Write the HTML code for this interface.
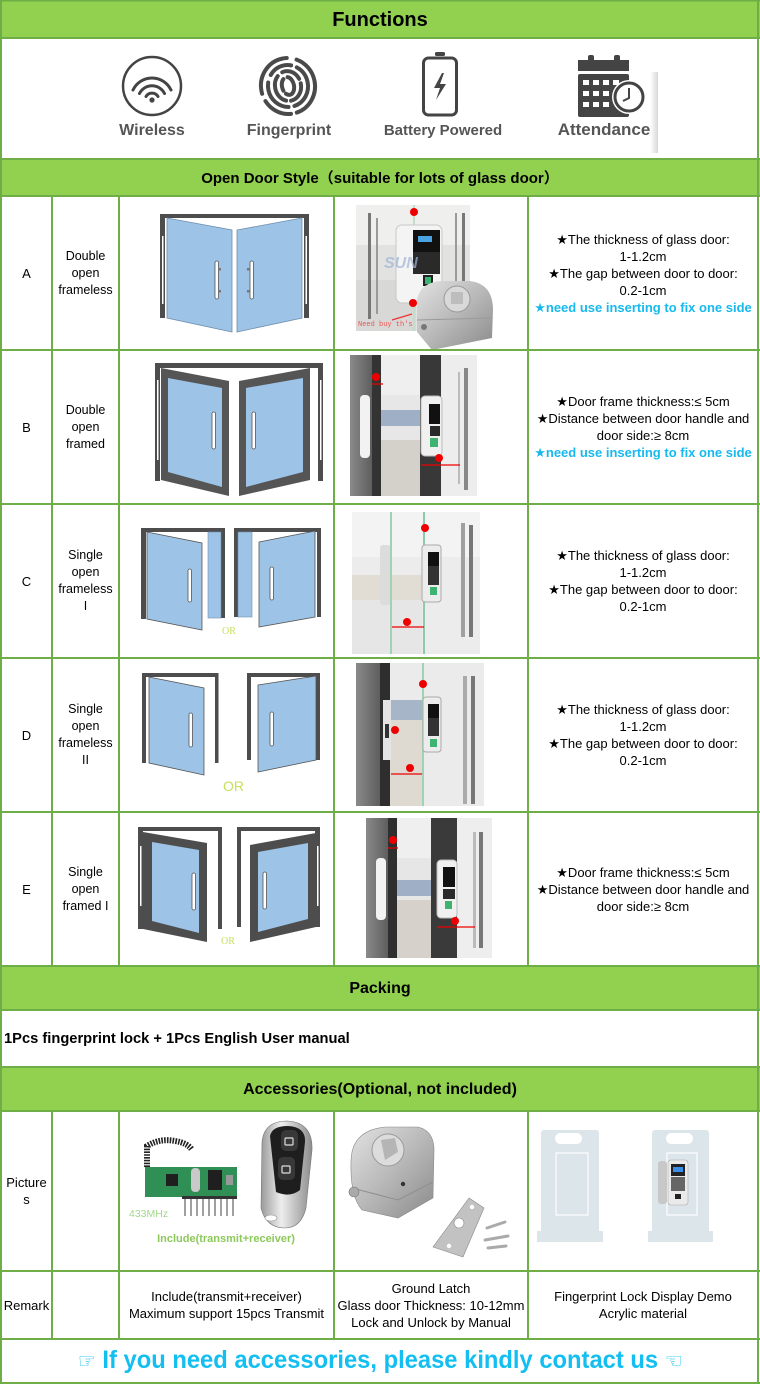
<!DOCTYPE html>
<html><head><meta charset="utf-8">
<style>
*{margin:0;padding:0;box-sizing:border-box}
body{width:760px;height:1384px;background:#fff;position:relative;overflow:hidden;font-family:"Liberation Sans",Arial,sans-serif;color:#000}
.c{position:absolute;display:flex;align-items:center;justify-content:center;text-align:center;font-size:13px;line-height:17px}
.c2{font-size:12.5px}
.h{font-weight:bold;font-size:16px}
.bl{color:#17b9ef;font-weight:bold}
.ic{position:absolute;font-weight:bold;color:#555;font-size:16px;white-space:nowrap;text-align:center}
.tx{font-family:'Liberation Sans','DejaVu Sans',sans-serif;white-space:nowrap}
svg{position:absolute;left:0;top:0}
</style></head><body>
<svg width="760" height="1384" xmlns="http://www.w3.org/2000/svg">
<defs>
<linearGradient id="steel" x1="0" y1="0" x2="1" y2="1"><stop offset="0" stop-color="#e2e2e2"/><stop offset=".5" stop-color="#b8b8b8"/><stop offset="1" stop-color="#8a8a8a"/></linearGradient>
<linearGradient id="chrome" x1="0" y1="0" x2="1" y2="0"><stop offset="0" stop-color="#9a9a9a"/><stop offset=".4" stop-color="#eeeeee"/><stop offset="1" stop-color="#8c8c8c"/></linearGradient>
<linearGradient id="shade" x1="0" y1="0" x2="1" y2="0"><stop offset="0" stop-color="#ffffff"/><stop offset="1" stop-color="#d8d8d8"/></linearGradient>
<linearGradient id="frm" x1="0" y1="0" x2="1" y2="0"><stop offset="0" stop-color="#8a8a8a"/><stop offset="1" stop-color="#5e5e5e"/></linearGradient>
</defs>
<!-- headers -->
<rect x="0" y="0" width="760" height="38" fill="#92d050"/>
<rect x="0" y="159" width="760" height="37" fill="#92d050"/>
<rect x="0" y="966" width="760" height="44" fill="#92d050"/>
<rect x="0" y="1067" width="760" height="44" fill="#92d050"/>

<!-- Icons -->
<circle cx="152" cy="86" r="29" fill="none" stroke="#444" stroke-width="2.5"/>
<g fill="none" stroke="#444" stroke-width="3" stroke-linecap="round">
<path d="M133,90 A21,21 0 0 1 171,90"/>
<path d="M139.5,93.5 A14,14 0 0 1 164.5,93.5"/>
<path d="M146,96.5 A7,7 0 0 1 158,96.5"/>
</g>
<circle cx="152" cy="100" r="2.6" fill="#444"/>

<g fill="none" stroke="#4a4a4a" stroke-width="4" stroke-linecap="round" transform="rotate(-12 288 86)">
<ellipse cx="288" cy="86" rx="27" ry="28" stroke-dasharray="40 6 30 8 50 10 30"/>
<ellipse cx="288" cy="86" rx="20" ry="21" stroke-dasharray="30 6 36 8 24 6"/>
<ellipse cx="288" cy="86" rx="13" ry="15" stroke-dasharray="22 5 30 6 20"/>
<ellipse cx="288" cy="86" rx="6" ry="9" stroke-dasharray="16 4 12 5"/>
</g>

<rect x="423.5" y="58" width="33" height="57" rx="5" fill="none" stroke="#444" stroke-width="3"/>
<rect x="435" y="52" width="10" height="4" rx="1.5" fill="#444"/>
<polygon points="442,73 434,88 440,88 436,100 446,84 440,84 444,73" fill="#444"/>

<rect x="578" y="60" width="51" height="11" fill="#444"/>
<rect x="588" y="55" width="6" height="8" rx="2" fill="#444"/>
<rect x="614" y="55" width="6" height="8" rx="2" fill="#444"/>
<rect x="578" y="74" width="51" height="43" rx="2" fill="#444"/>
<g fill="#fff">
<rect x="583" y="80" width="6" height="5"/><rect x="593" y="80" width="6" height="5"/><rect x="603" y="80" width="6" height="5"/><rect x="613" y="80" width="6" height="5"/>
<rect x="583" y="91" width="6" height="5"/><rect x="593" y="91" width="6" height="5"/><rect x="603" y="91" width="6" height="5"/>
<rect x="583" y="102" width="6" height="5"/><rect x="593" y="102" width="6" height="5"/><rect x="603" y="102" width="6" height="5"/>
</g>
<circle cx="629" cy="97" r="17" fill="#fff"/>
<circle cx="629" cy="97" r="14" fill="#fff" stroke="#444" stroke-width="3"/>
<path d="M629,88 L629,98 L623,101" fill="none" stroke="#444" stroke-width="2"/>
<rect x="650" y="72" width="8" height="81" fill="url(#shade)"/>

<!-- Row A door diagram -->
<g>
<rect x="160" y="214" width="149" height="4" fill="#4d4d4d"/>
<rect x="160" y="214" width="5" height="104" fill="#4d4d4d"/>
<rect x="162" y="236" width="1.5" height="68" fill="#fff"/>
<rect x="304" y="214" width="5" height="104" fill="#4d4d4d"/>
<rect x="305.5" y="236" width="1.5" height="68" fill="#fff"/>
<polygon points="167,218 232,230 232,332 167,318" fill="#9dc3e6" stroke="#6f8fae" stroke-width=".8"/>
<polygon points="237,230 302,218 302,318 237,332" fill="#9dc3e6" stroke="#6f8fae" stroke-width=".8"/>
<rect x="215" y="261" width="3.5" height="38" rx="1.7" fill="#fff" stroke="#555" stroke-width=".8"/>
<rect x="218" y="268" width="3" height="2.5" fill="#777"/><rect x="218" y="290" width="3" height="2.5" fill="#777"/>
<rect x="250" y="261" width="3.5" height="38" rx="1.7" fill="#fff" stroke="#555" stroke-width=".8"/>
<rect x="247" y="268" width="3" height="2.5" fill="#777"/><rect x="247" y="290" width="3" height="2.5" fill="#777"/>
</g>

<!-- Row B door diagram -->
<g>
<rect x="155" y="363" width="168" height="5" fill="#4d4d4d"/>
<rect x="155" y="363" width="5" height="118" fill="#4d4d4d"/>
<rect x="157" y="380" width="1.5" height="80" fill="#fff"/>
<rect x="318" y="363" width="5" height="118" fill="#4d4d4d"/>
<rect x="320" y="380" width="1.5" height="80" fill="#fff"/>
<polygon points="161,368 229,381 229,496 161,480" fill="#555"/>
<polygon points="168,378 222,388 222,487 168,472" fill="#9dc3e6"/>
<polygon points="239,381 310,368 310,480 239,496" fill="#555"/>
<polygon points="246,388 303,378 303,472 246,487" fill="#9dc3e6"/>
<rect x="212" y="412" width="3.5" height="37" rx="1.7" fill="#fff" stroke="#555" stroke-width=".8"/>
<rect x="252" y="412" width="3.5" height="37" rx="1.7" fill="#fff" stroke="#555" stroke-width=".8"/>
</g>

<!-- Row C door diagram -->
<g>
<rect x="141" y="528" width="84" height="4" fill="#4d4d4d"/>
<rect x="141" y="528" width="5" height="91" fill="#4d4d4d"/>
<rect x="221" y="528" width="4" height="90" fill="#4d4d4d"/>
<rect x="208" y="532" width="13" height="86" fill="#9dc3e6" stroke="#6f8fae" stroke-width=".6"/>
<polygon points="147,532 202,543 202,630 147,619" fill="#9dc3e6" stroke="#555" stroke-width=".8"/>
<rect x="188" y="569" width="3.5" height="33" rx="1.7" fill="#fff" stroke="#555" stroke-width=".8"/>
<rect x="234" y="528" width="87" height="4" fill="#4d4d4d"/>
<rect x="234" y="528" width="4" height="89" fill="#4d4d4d"/>
<rect x="317" y="528" width="4" height="89" fill="#4d4d4d"/>
<rect x="238" y="532" width="14" height="85" fill="#9dc3e6" stroke="#6f8fae" stroke-width=".6"/>
<polygon points="259,542 315,531 315,617 259,627" fill="#9dc3e6" stroke="#555" stroke-width=".8"/>
<rect x="270" y="567" width="3.5" height="33" rx="1.7" fill="#fff" stroke="#555" stroke-width=".8"/>
<text x="222" y="634" font-family="Liberation Serif,serif" font-size="10" fill="#c5e05c">OR</text>
</g>

<!-- Row D door diagram -->
<g>
<rect x="142" y="673" width="76" height="4" fill="#4d4d4d"/>
<rect x="142" y="673" width="4" height="90" fill="#4d4d4d"/>
<rect x="215" y="673" width="3.5" height="90" fill="#4d4d4d"/>
<polygon points="149,677 204,688 204,775 149,763" fill="#9dc3e6" stroke="#555" stroke-width=".8"/>
<rect x="189" y="713" width="3.5" height="34" rx="1.7" fill="#fff" stroke="#555" stroke-width=".8"/>
<rect x="247" y="673" width="73" height="4" fill="#4d4d4d"/>
<rect x="247" y="673" width="4" height="87" fill="#4d4d4d"/>
<rect x="316" y="673" width="4" height="87" fill="#4d4d4d"/>
<polygon points="258,685 316,676 316,760 258,772" fill="#9dc3e6" stroke="#555" stroke-width=".8"/>
<rect x="270" y="712" width="3.5" height="34" rx="1.7" fill="#fff" stroke="#555" stroke-width=".8"/>
<text x="223" y="791" font-family="Liberation Sans,sans-serif" font-size="14" fill="#c5e05c">OR</text>
</g>

<!-- Row E door diagram -->
<g>
<rect x="138" y="827" width="84" height="4" fill="#4d4d4d"/>
<rect x="138" y="827" width="5" height="102" fill="#4d4d4d"/>
<rect x="140" y="846" width="1.5" height="60" fill="#fff"/>
<rect x="218" y="827" width="4" height="102" fill="#4d4d4d"/>
<polygon points="143,832 207,843 207,942 143,929" fill="#4d4d4d"/>
<polygon points="152,842 199,850 199,933 152,921" fill="#9dc3e6"/>
<rect x="192" y="873" width="3.5" height="37" rx="1.7" fill="#fff" stroke="#555" stroke-width=".8"/>
<rect x="237" y="827" width="83" height="4" fill="#4d4d4d"/>
<rect x="237" y="827" width="4" height="100" fill="#4d4d4d"/>
<rect x="315" y="827" width="5" height="100" fill="#4d4d4d"/>
<rect x="317" y="846" width="1.5" height="60" fill="#fff"/>
<polygon points="250,845 316,833 316,927 250,942" fill="#4d4d4d"/>
<polygon points="258,852 308,843 308,919 258,932" fill="#9dc3e6"/>
<rect x="263" y="872" width="3.5" height="37" rx="1.7" fill="#fff" stroke="#555" stroke-width=".8"/>
<text x="221" y="944" font-family="Liberation Serif,serif" font-size="10" fill="#c5e05c">OR</text>
</g>

<!-- Row A photo -->
<g>
<rect x="356" y="205" width="114" height="126" fill="#e2e2e0"/>
<rect x="356" y="205" width="114" height="40" fill="#efefed"/>
<rect x="356" y="280" width="60" height="51" fill="#d8d8d6"/>
<rect x="413" y="205" width="2" height="126" fill="#c5dccd"/>
<rect x="368" y="213" width="3" height="106" fill="#777"/>
<rect x="376" y="218" width="2" height="96" fill="#9a9a9a"/>
<rect x="455" y="213" width="2" height="106" fill="#9a9a9a"/>
<rect x="462" y="213" width="3" height="106" fill="#777"/>
<rect x="396" y="225" width="46" height="78" rx="6" fill="#f4f4f4" stroke="#c8c8c8"/>
<rect x="413" y="230" width="27" height="22" fill="#111"/>
<rect x="418" y="236" width="14" height="6" fill="#4aa3e0"/>
<rect x="413" y="252" width="27" height="22" fill="#2a2a2a"/>
<rect x="423" y="275" width="10" height="11" fill="#222"/>
<rect x="425" y="277" width="6" height="7" fill="#3cb371"/>
<text x="384" y="268" font-family="Liberation Sans,sans-serif" font-size="16" font-weight="bold" font-style="italic" fill="#9fb4d6" opacity=".7">SUN</text>
<path d="M417,300 Q420,282 442,281 L470,281 Q493,284 493,310 L492,338 L432,350 L417,332 Z" fill="url(#steel)"/>
<path d="M417,320 L492,318" stroke="#9a9a9a" stroke-width="1" fill="none"/>
<circle cx="457" cy="299" r="13" fill="#d9d9d9" stroke="#999"/>
<rect x="451" y="292" width="12" height="12" fill="#bdbdbd"/>
<circle cx="424" cy="327" r="3" fill="#777"/>
<circle cx="414" cy="212" r="4" fill="#e00"/>
<circle cx="413" cy="303" r="4" fill="#e00"/>
<path d="M392,320 L412,314" stroke="#e33" stroke-width="1.2"/>
<text x="358" y="326" font-family="Liberation Mono,monospace" font-size="7" fill="#ee5555">Need buy th's</text>
</g>

<!-- Row B photo -->
<g>
<rect x="350" y="355" width="127" height="141" fill="#e7e7e7"/>
<rect x="381" y="355" width="39" height="40" fill="#efefef"/>
<rect x="381" y="410" width="39" height="16" fill="#9fb0c6"/>
<rect x="381" y="440" width="39" height="56" fill="#d4d0ca"/>
<rect x="350" y="355" width="22" height="141" fill="url(#frm)"/>
<rect x="372" y="355" width="9" height="141" fill="#333"/>
<rect x="420" y="355" width="21" height="141" fill="#383838"/>
<rect x="441" y="355" width="36" height="141" fill="#ededed"/>
<rect x="458" y="372" width="2" height="112" fill="#bbb"/>
<rect x="464" y="368" width="4" height="122" fill="#888"/>
<rect x="421" y="396" width="21" height="60" rx="4" fill="#f0f0f0" stroke="#bbb"/>
<rect x="429" y="404" width="11" height="20" fill="#111"/>
<rect x="430" y="426" width="10" height="10" fill="#2a2a2a"/>
<rect x="430" y="438" width="8" height="9" fill="#3cb371"/>
<rect x="360" y="395" width="10" height="63" rx="4" fill="#f2f2f2"/>
<circle cx="376" cy="377" r="4" fill="#e00"/>
<path d="M372,384 L383,384" stroke="#e00" stroke-width="1.2"/>
<circle cx="439" cy="458" r="4" fill="#e00"/>
<path d="M421,465 L460,465" stroke="#e00" stroke-width="1.2"/>
</g>

<!-- Row C photo -->
<g>
<rect x="352" y="512" width="128" height="142" fill="#ececec"/>
<rect x="352" y="512" width="128" height="45" fill="#f3f3f3"/>
<rect x="352" y="575" width="70" height="25" fill="#e2ddd4"/>
<rect x="352" y="600" width="70" height="54" fill="#e6e6e6"/>
<rect x="380" y="545" width="11" height="60" rx="3" fill="#dcdcdc"/>
<rect x="390" y="512" width="2" height="142" fill="#9fd3b4"/>
<rect x="423" y="512" width="2" height="142" fill="#8fcaa8"/>
<rect x="422" y="545" width="19" height="57" rx="3" fill="#ececec" stroke="#aaa"/>
<rect x="428" y="552" width="11" height="14" fill="#111"/>
<rect x="428" y="566" width="11" height="19" fill="#333"/>
<rect x="430" y="587" width="7" height="8" fill="#3cb371"/>
<rect x="461" y="523" width="4" height="114" fill="#a0a0a0"/>
<rect x="469" y="525" width="4" height="112" fill="#777"/>
<circle cx="425" cy="528" r="4" fill="#e00"/>
<circle cx="407" cy="622" r="4" fill="#e00"/>
<path d="M392,627 L424,627" stroke="#e00" stroke-width="1.2"/>
</g>

<!-- Row D photo -->
<g>
<rect x="356" y="663" width="128" height="143" fill="#ebebeb"/>
<rect x="390" y="700" width="32" height="20" fill="#a7b5c8"/>
<rect x="390" y="720" width="32" height="86" fill="#dedad2"/>
<rect x="356" y="663" width="24" height="143" fill="url(#frm)"/>
<rect x="380" y="663" width="10" height="143" fill="#2e2e2e"/>
<rect x="383" y="700" width="8" height="60" fill="#e4e4e4"/>
<rect x="385" y="724" width="4" height="14" fill="#333"/>
<rect x="422" y="663" width="2" height="143" fill="#9fd3b4"/>
<rect x="423" y="697" width="18" height="55" rx="3" fill="#ececec" stroke="#aaa"/>
<rect x="428" y="704" width="11" height="14" fill="#111"/>
<rect x="428" y="718" width="11" height="18" fill="#333"/>
<rect x="430" y="739" width="7" height="8" fill="#3cb371"/>
<rect x="463" y="676" width="4" height="128" fill="#aaa"/>
<rect x="471" y="676" width="4" height="128" fill="#777"/>
<circle cx="423" cy="684" r="4" fill="#e00"/>
<circle cx="395" cy="730" r="4" fill="#e00"/>
<circle cx="410" cy="768" r="4" fill="#e00"/>
<path d="M391,774 L422,774" stroke="#e00" stroke-width="1.2"/>
</g>

<!-- Row E photo -->
<g>
<rect x="366" y="818" width="126" height="140" fill="#e6e6e6"/>
<rect x="397" y="818" width="34" height="40" fill="#efefef"/>
<rect x="397" y="880" width="34" height="16" fill="#9fb0c6"/>
<rect x="397" y="900" width="34" height="58" fill="#d6d2cb"/>
<rect x="366" y="818" width="22" height="140" fill="url(#frm)"/>
<rect x="388" y="818" width="9" height="140" fill="#2f2f2f"/>
<rect x="431" y="818" width="26" height="140" fill="#3a3a3a"/>
<rect x="457" y="818" width="35" height="140" fill="#eeeeee"/>
<rect x="376" y="858" width="10" height="62" rx="4" fill="#f2f2f2"/>
<rect x="437" y="860" width="20" height="58" rx="4" fill="#f0f0f0" stroke="#bbb"/>
<rect x="443" y="867" width="12" height="20" fill="#111"/>
<rect x="443" y="889" width="12" height="10" fill="#2a2a2a"/>
<rect x="445" y="901" width="7" height="8" fill="#3cb371"/>
<rect x="473" y="832" width="3" height="116" fill="#bbb"/>
<rect x="479" y="832" width="4" height="116" fill="#777"/>
<circle cx="393" cy="840" r="4" fill="#e00"/>
<path d="M388,848 L398,848" stroke="#e00" stroke-width="1.2"/>
<circle cx="455" cy="921" r="4" fill="#e00"/>
<path d="M437,927 L475,927" stroke="#e00" stroke-width="1.2"/>
</g>

<!-- Accessories: receiver + remote -->
<g>
<path d="M147,1167 L147,1146 Q160,1138 175,1141 Q188,1143 192,1150" fill="none" stroke="#222" stroke-width="6" stroke-dasharray="1.6 1.2"/>
<rect x="145" y="1167" width="92" height="30" fill="#2f8f55"/>
<rect x="166" y="1174" width="12" height="12" fill="#1f1f1f"/>
<rect x="191" y="1168" width="9" height="24" rx="4" fill="#c9c9c9"/>
<rect x="208" y="1170" width="14" height="20" fill="#1f1f1f"/>
<rect x="226" y="1175" width="7" height="10" fill="#999"/>
<g stroke="#777" stroke-width="1.4">
<path d="M185,1197 L185,1216 M191,1197 L191,1216 M197,1197 L197,1216 M203,1197 L203,1216 M209,1197 L209,1216 M215,1197 L215,1216 M221,1197 L221,1216 M227,1197 L227,1216 M233,1197 L233,1216"/>
</g>
<rect x="182" y="1196" width="55" height="3" fill="#333"/>
<path d="M262,1142 Q264,1121 287,1121 Q313,1122 312,1150 L306,1208 Q301,1228 285,1228 Q266,1228 261,1208 Z" fill="url(#chrome)" stroke="#777" stroke-width=".6"/>
<path d="M270,1136 Q272,1126 288,1126 Q306,1127 305,1142 L300,1190 Q290,1198 276,1192 Z" fill="#1e1e1e"/>
<rect x="281" y="1130" width="17" height="21" rx="5" fill="#383838"/>
<rect x="278" y="1157" width="17" height="23" rx="5" fill="#383838"/>
<rect x="285" y="1138" width="8" height="7" rx="1" fill="none" stroke="#ddd" stroke-width="1.2"/>
<rect x="282" y="1166" width="8" height="7" rx="1" fill="none" stroke="#ddd" stroke-width="1.2"/>
<ellipse cx="271" cy="1218" rx="6" ry="3" fill="#fff" stroke="#999" stroke-width=".6"/>
<text x="129" y="1217" font-family="Liberation Sans,sans-serif" font-size="10.5" fill="#a2d889">433MHz</text>
<text x="226" y="1242" text-anchor="middle" font-family="Liberation Sans,sans-serif" font-size="11" font-weight="bold" fill="#8cc85a">Include(transmit+receiver)</text>
</g>

<!-- Accessories: latch -->
<g>
<path d="M351,1162 Q351,1130 386,1127 L418,1127 Q434,1131 434,1150 L433,1198 L398,1218 L362,1210 Q350,1196 351,1162 Z" fill="url(#steel)" stroke="#888" stroke-width=".6"/>
<path d="M352,1188 L398,1200 L433,1182" fill="none" stroke="#8f8f8f" stroke-width="1"/>
<circle cx="388" cy="1150" r="16" fill="#dcdcdc" stroke="#999"/>
<polygon points="381,1140 395,1138 398,1152 385,1160" fill="#b5b5b5"/>
<circle cx="403" cy="1184" r="2.2" fill="#333"/>
<circle cx="354" cy="1192" r="5" fill="#aaa" stroke="#777" stroke-width=".6"/>
<polygon points="469,1198 484,1208 463,1257 433,1247" fill="#c2c2c2" stroke="#888" stroke-width=".6"/>
<circle cx="459" cy="1223" r="5" fill="#fff" stroke="#888" stroke-width=".6"/>
<circle cx="472" cy="1207" r="2.2" fill="#fff"/>
<circle cx="449" cy="1246" r="2.2" fill="#fff"/>
<path d="M487,1228 L505,1222 M485,1240 L508,1236 M488,1248 L506,1246" stroke="#aaa" stroke-width="3" stroke-linecap="round"/>
</g>

<!-- Accessories: display stands -->
<g>
<rect x="541" y="1130" width="58" height="104" rx="3" fill="#dbe5ea"/>
<rect x="537" y="1231" width="66" height="11" fill="#dbe5ea"/>
<rect x="555" y="1133" width="27" height="11" rx="5.5" fill="#fff"/>
<rect x="556" y="1153" width="32" height="62" fill="none" stroke="#fff" stroke-width="1.2"/>
<rect x="652" y="1130" width="57" height="104" rx="3" fill="#dbe5ea"/>
<rect x="648" y="1231" width="65" height="11" fill="#dbe5ea"/>
<rect x="666" y="1133" width="27" height="11" rx="5.5" fill="#fff"/>
<rect x="667" y="1153" width="30" height="62" fill="none" stroke="#fff" stroke-width="1.2"/>
<rect x="658" y="1161" width="9" height="43" rx="3" fill="#c8c8c8"/>
<rect x="668" y="1160" width="20" height="45" rx="3" fill="#eaeaea" stroke="#aaa" stroke-width=".6"/>
<rect x="671" y="1164" width="14" height="12" fill="#222"/>
<rect x="673" y="1167" width="10" height="5" fill="#3b8ee8"/>
<rect x="671" y="1177" width="14" height="14" fill="#666"/>
<rect x="675" y="1194" width="6" height="5" fill="#222"/>
</g>

<!-- grid lines -->
<g fill="#6fad46">
<rect x="0" y="0" width="760" height="1.5"/>
<rect x="0" y="37" width="760" height="2"/>
<rect x="0" y="158" width="760" height="2"/>
<rect x="0" y="195" width="760" height="2"/>
<rect x="0" y="349" width="760" height="2"/>
<rect x="0" y="503" width="760" height="2"/>
<rect x="0" y="657" width="760" height="2"/>
<rect x="0" y="811" width="760" height="2"/>
<rect x="0" y="965" width="760" height="2"/>
<rect x="0" y="1009" width="760" height="2"/>
<rect x="0" y="1066" width="760" height="2"/>
<rect x="0" y="1110" width="760" height="2"/>
<rect x="0" y="1270" width="760" height="2"/>
<rect x="0" y="1338" width="760" height="2"/>
<rect x="0" y="1382" width="760" height="2"/>
<rect x="0" y="0" width="2" height="1384"/>
<rect x="757" y="0" width="2" height="1384"/>
<rect x="51" y="195" width="2" height="772"/>
<rect x="118" y="195" width="2" height="772"/>
<rect x="333" y="195" width="2" height="772"/>
<rect x="527" y="195" width="2" height="772"/>
<rect x="51" y="1110" width="2" height="230"/>
<rect x="118" y="1110" width="2" height="230"/>
<rect x="333" y="1110" width="2" height="230"/>
<rect x="527" y="1110" width="2" height="230"/>
</g>
</svg>

<!-- icon labels -->
<div class="ic" style="left:102px;top:121px;width:100px;line-height:20px">Wireless</div>
<div class="ic" style="left:239px;top:121px;width:100px;line-height:20px">Fingerprint</div>
<div class="ic" style="left:373px;top:121px;width:140px;line-height:20px;font-size:15px">Battery Powered</div>
<div class="ic" style="left:544px;top:120px;width:120px;line-height:20px;font-size:17px">Attendance</div>

<!-- headers -->
<div class="c" style="left:0;top:1px;width:760px;height:37px;font-weight:bold;font-size:20px;line-height:22px">Functions</div>
<div class="c" style="left:0;top:160px;width:760px;height:36px;font-weight:bold;font-size:15px;font-family:'Liberation Sans','Noto Sans CJK SC',sans-serif">Open Door Style（suitable for lots of glass door）</div>
<div class="c h" style="left:0;top:967px;width:760px;height:43px">Packing</div>
<div class="c h" style="left:0;top:1068px;width:760px;height:43px">Accessories(Optional, not included)</div>
<div class="c" style="left:4px;top:1011px;width:700px;height:56px;justify-content:flex-start;font-weight:bold;font-size:14.7px">1Pcs fingerprint lock + 1Pcs English User manual</div>

<!-- column 1 -->
<div class="c" style="left:2px;top:197px;width:49px;height:152px">A</div>
<div class="c" style="left:2px;top:351px;width:49px;height:152px">B</div>
<div class="c" style="left:2px;top:505px;width:49px;height:152px">C</div>
<div class="c" style="left:2px;top:659px;width:49px;height:152px">D</div>
<div class="c" style="left:2px;top:813px;width:49px;height:152px">E</div>
<div class="c" style="left:2px;top:1112px;width:49px;height:158px"><div>Picture<br>s</div></div>
<div class="c" style="left:2px;top:1272px;width:49px;height:66px">Remark</div>

<!-- column 2 -->
<div class="c c2" style="left:53px;top:197px;width:65px;height:152px"><div>Double<br>open<br>frameless</div></div>
<div class="c c2" style="left:53px;top:351px;width:65px;height:152px"><div>Double<br>open<br>framed</div></div>
<div class="c c2" style="left:53px;top:505px;width:65px;height:152px"><div>Single<br>open<br>frameless<br>I</div></div>
<div class="c c2" style="left:53px;top:659px;width:65px;height:152px"><div>Single<br>open<br>frameless<br>II</div></div>
<div class="c c2" style="left:53px;top:813px;width:65px;height:152px"><div>Single<br>open<br>framed I</div></div>

<!-- text column -->
<div class="c" style="left:529px;top:197px;width:228px;height:152px"><div class="tx">★The thickness of glass door:<br>1-1.2cm<br>★The gap between door to door:<br>0.2-1cm<br><span class="bl">★need use inserting to fix one side</span></div></div>
<div class="c" style="left:529px;top:351px;width:228px;height:152px"><div class="tx">★Door frame thickness:≤ 5cm<br>★Distance between door handle and<br>door side:≥ 8cm<br><span class="bl">★need use inserting to fix one side</span></div></div>
<div class="c" style="left:529px;top:505px;width:228px;height:152px"><div class="tx">★The thickness of glass door:<br>1-1.2cm<br>★The gap between door to door:<br>0.2-1cm</div></div>
<div class="c" style="left:529px;top:659px;width:228px;height:152px"><div class="tx">★The thickness of glass door:<br>1-1.2cm<br>★The gap between door to door:<br>0.2-1cm</div></div>
<div class="c" style="left:529px;top:813px;width:228px;height:152px"><div class="tx">★Door frame thickness:≤ 5cm<br>★Distance between door handle and<br>door side:≥ 8cm</div></div>

<!-- remark row -->
<div class="c" style="left:120px;top:1272px;width:213px;height:66px"><div>Include(transmit+receiver)<br>Maximum support 15pcs Transmit</div></div>
<div class="c" style="left:335px;top:1272px;width:192px;height:66px"><div style="white-space:nowrap">Ground Latch<br>Glass door Thickness: 10-12mm<br>Lock and Unlock by Manual</div></div>
<div class="c" style="left:529px;top:1272px;width:228px;height:66px"><div>Fingerprint Lock Display Demo<br>Acrylic material</div></div>

<!-- footer -->
<div class="c" style="left:0;top:1340px;width:760px;height:42px;white-space:nowrap">
<span style="display:inline-block;transform:scaleX(.95);font-weight:bold;font-size:25px;line-height:30px;color:#12bff0;font-family:'Liberation Sans','DejaVu Sans',sans-serif"><span style="font-size:21px">☞</span> If you need accessories, please kindly contact us <span style="font-size:21px">☜</span></span>
</div>
</body></html>
